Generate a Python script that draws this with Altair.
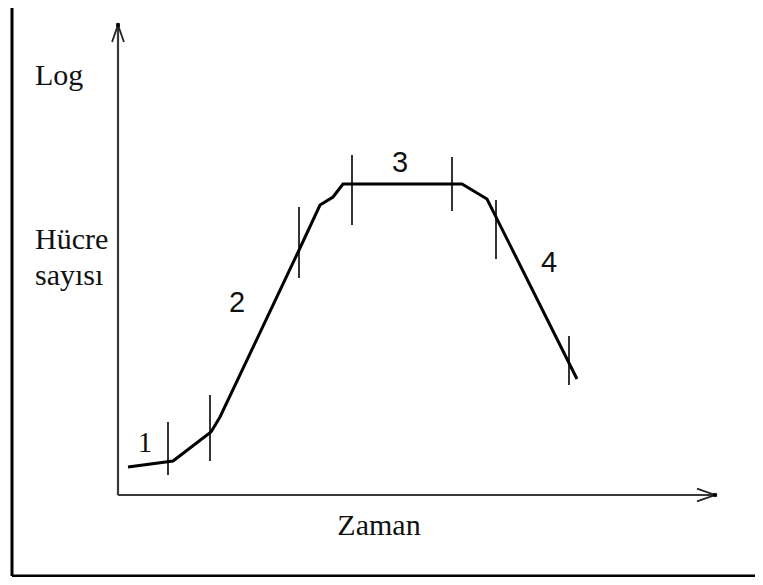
import altair as alt
import pandas as pd

# growth curve (time, log cell count) in arbitrary schematic units
curve_t = [1.0, 5.5, 9.3, 10.2, 18.2, 20.2, 21.5, 22.5, 34.4, 36.9, 45.9]
curve_log = [2.8, 3.4, 6.3, 7.8, 24.7, 29.0, 29.8, 31.1, 31.1, 29.6, 11.6]

# phase separator ticks
tick_t = [5.0, 9.2, 18.1, 23.4, 33.4, 37.8, 45.1]
tick_lo = [2.0, 3.4, 21.7, 27.0, 28.4, 23.6, 11.0]
tick_hi = [7.3, 10.0, 28.8, 34.0, 33.8, 29.5, 15.9]

# phase numbers
phase_labels = ["1", "2", "3", "4"]
phase_fonts = ["Liberation Serif", "Liberation Sans", "Liberation Sans", "Liberation Sans"]
phase_t = [2.7, 11.9, 28.2, 43.1]
phase_log = [4.3, 18.3, 32.3, 22.3]

# axis titles
ylab_text = ["Log", "Hücre", "sayısı"]
ylab_t = [-8.3, -8.3, -8.3]
ylab_log = [41.0, 24.6, 21.0]
xlab_text = ["Zaman"]
xlab_t = [26.1]
xlab_log = [-4.0]

# axis extents
x_axis_end = 59.7
y_axis_end = 47.0

# frame
frame_left = -10.6
frame_bottom = -8.1
X_DOM = [-11.0, 63.7]
Y_DOM = [-8.2, 48.7]

xs = alt.Scale(domain=X_DOM, nice=False, zero=False)
ys = alt.Scale(domain=Y_DOM, nice=False, zero=False)

def X(f="t"):
    return alt.X(f"{f}:Q", scale=xs, axis=None)

def Y(f="v"):
    return alt.Y(f"{f}:Q", scale=ys, axis=None)

frame_v = pd.DataFrame({"t": [frame_left], "v": [frame_bottom], "v2": [Y_DOM[1]]})
frame_h = pd.DataFrame({"t": [frame_left], "t2": [X_DOM[1]], "v": [frame_bottom]})
border_v = alt.Chart(frame_v).mark_rule(color="black", strokeWidth=3).encode(
    x=X(), y=Y(), y2="v2:Q")
border_h = alt.Chart(frame_h).mark_rule(color="black", strokeWidth=3).encode(
    x=X(), x2="t2:Q", y=Y())

yax = alt.Chart(pd.DataFrame({"t": [0.0], "v": [0.0], "v2": [y_axis_end]})).mark_rule(
    color="#3a3a3a", strokeWidth=2.2).encode(x=X(), y=Y(), y2="v2:Q")
xax = alt.Chart(pd.DataFrame({"t": [0.0], "t2": [x_axis_end], "v": [0.0]})).mark_rule(
    color="#3a3a3a", strokeWidth=2.2).encode(x=X(), x2="t2:Q", y=Y())

up_arrow = alt.Chart(pd.DataFrame({"t": [0.0], "v": [y_axis_end - 0.85]})).mark_point(
    shape="M -0.7 1 L 0 -1 L 0.7 1", size=289, filled=False, color="#222",
    strokeWidth=1.8, opacity=1).encode(x=X(), y=Y())
right_arrow = alt.Chart(pd.DataFrame({"t": [x_axis_end - 0.9], "v": [0.0]})).mark_point(
    shape="M -1 -0.7 L 1 0 L -1 0.7", size=324, filled=False, color="#222",
    strokeWidth=1.8, opacity=1).encode(x=X(), y=Y())
tips = alt.Chart(pd.DataFrame({"t": [0.0, x_axis_end], "v": [y_axis_end, 0.0]})).mark_square(
    size=14, color="black", opacity=1).encode(x=X(), y=Y())

curve_df = pd.DataFrame({"t": curve_t, "v": curve_log, "o": list(range(len(curve_t)))})
curve = alt.Chart(curve_df).mark_line(color="black", strokeWidth=3).encode(
    x=X(), y=Y(), order="o:Q")

ticks_df = pd.DataFrame({"t": tick_t, "v": tick_lo, "v2": tick_hi})
ticks = alt.Chart(ticks_df).mark_rule(color="black", strokeWidth=1.6).encode(
    x=X(), y=Y(), y2="v2:Q")

phase_layers = []
for lab, fnt, t, v in zip(phase_labels, phase_fonts, phase_t, phase_log):
    phase_layers.append(
        alt.Chart(pd.DataFrame({"t": [t], "v": [v], "s": [lab]})).mark_text(
            font=fnt, fontSize=29, color="#111", align="center", baseline="alphabetic"
        ).encode(x=X(), y=Y(), text="s:N"))

ylab = alt.Chart(pd.DataFrame({"t": ylab_t, "v": ylab_log, "s": ylab_text})).mark_text(
    font="Liberation Serif", fontSize=30, color="#111", align="left", baseline="alphabetic"
).encode(x=X(), y=Y(), text="s:N")
xlab = alt.Chart(pd.DataFrame({"t": xlab_t, "v": xlab_log, "s": xlab_text})).mark_text(
    font="Liberation Serif", fontSize=30, color="#111", align="center", baseline="alphabetic"
).encode(x=X(), y=Y(), text="s:N")

chart = alt.layer(
    border_v, border_h, yax, xax, up_arrow, right_arrow, tips, curve, ticks,
    *phase_layers, ylab, xlab
).properties(
    width=747, height=569,
    autosize=alt.AutoSizeParams(type="none"),
    padding=0,
    background="white",
).configure_view(stroke=None)

chart.save("out.html", embed_options={"renderer": "svg", "actions": False})
